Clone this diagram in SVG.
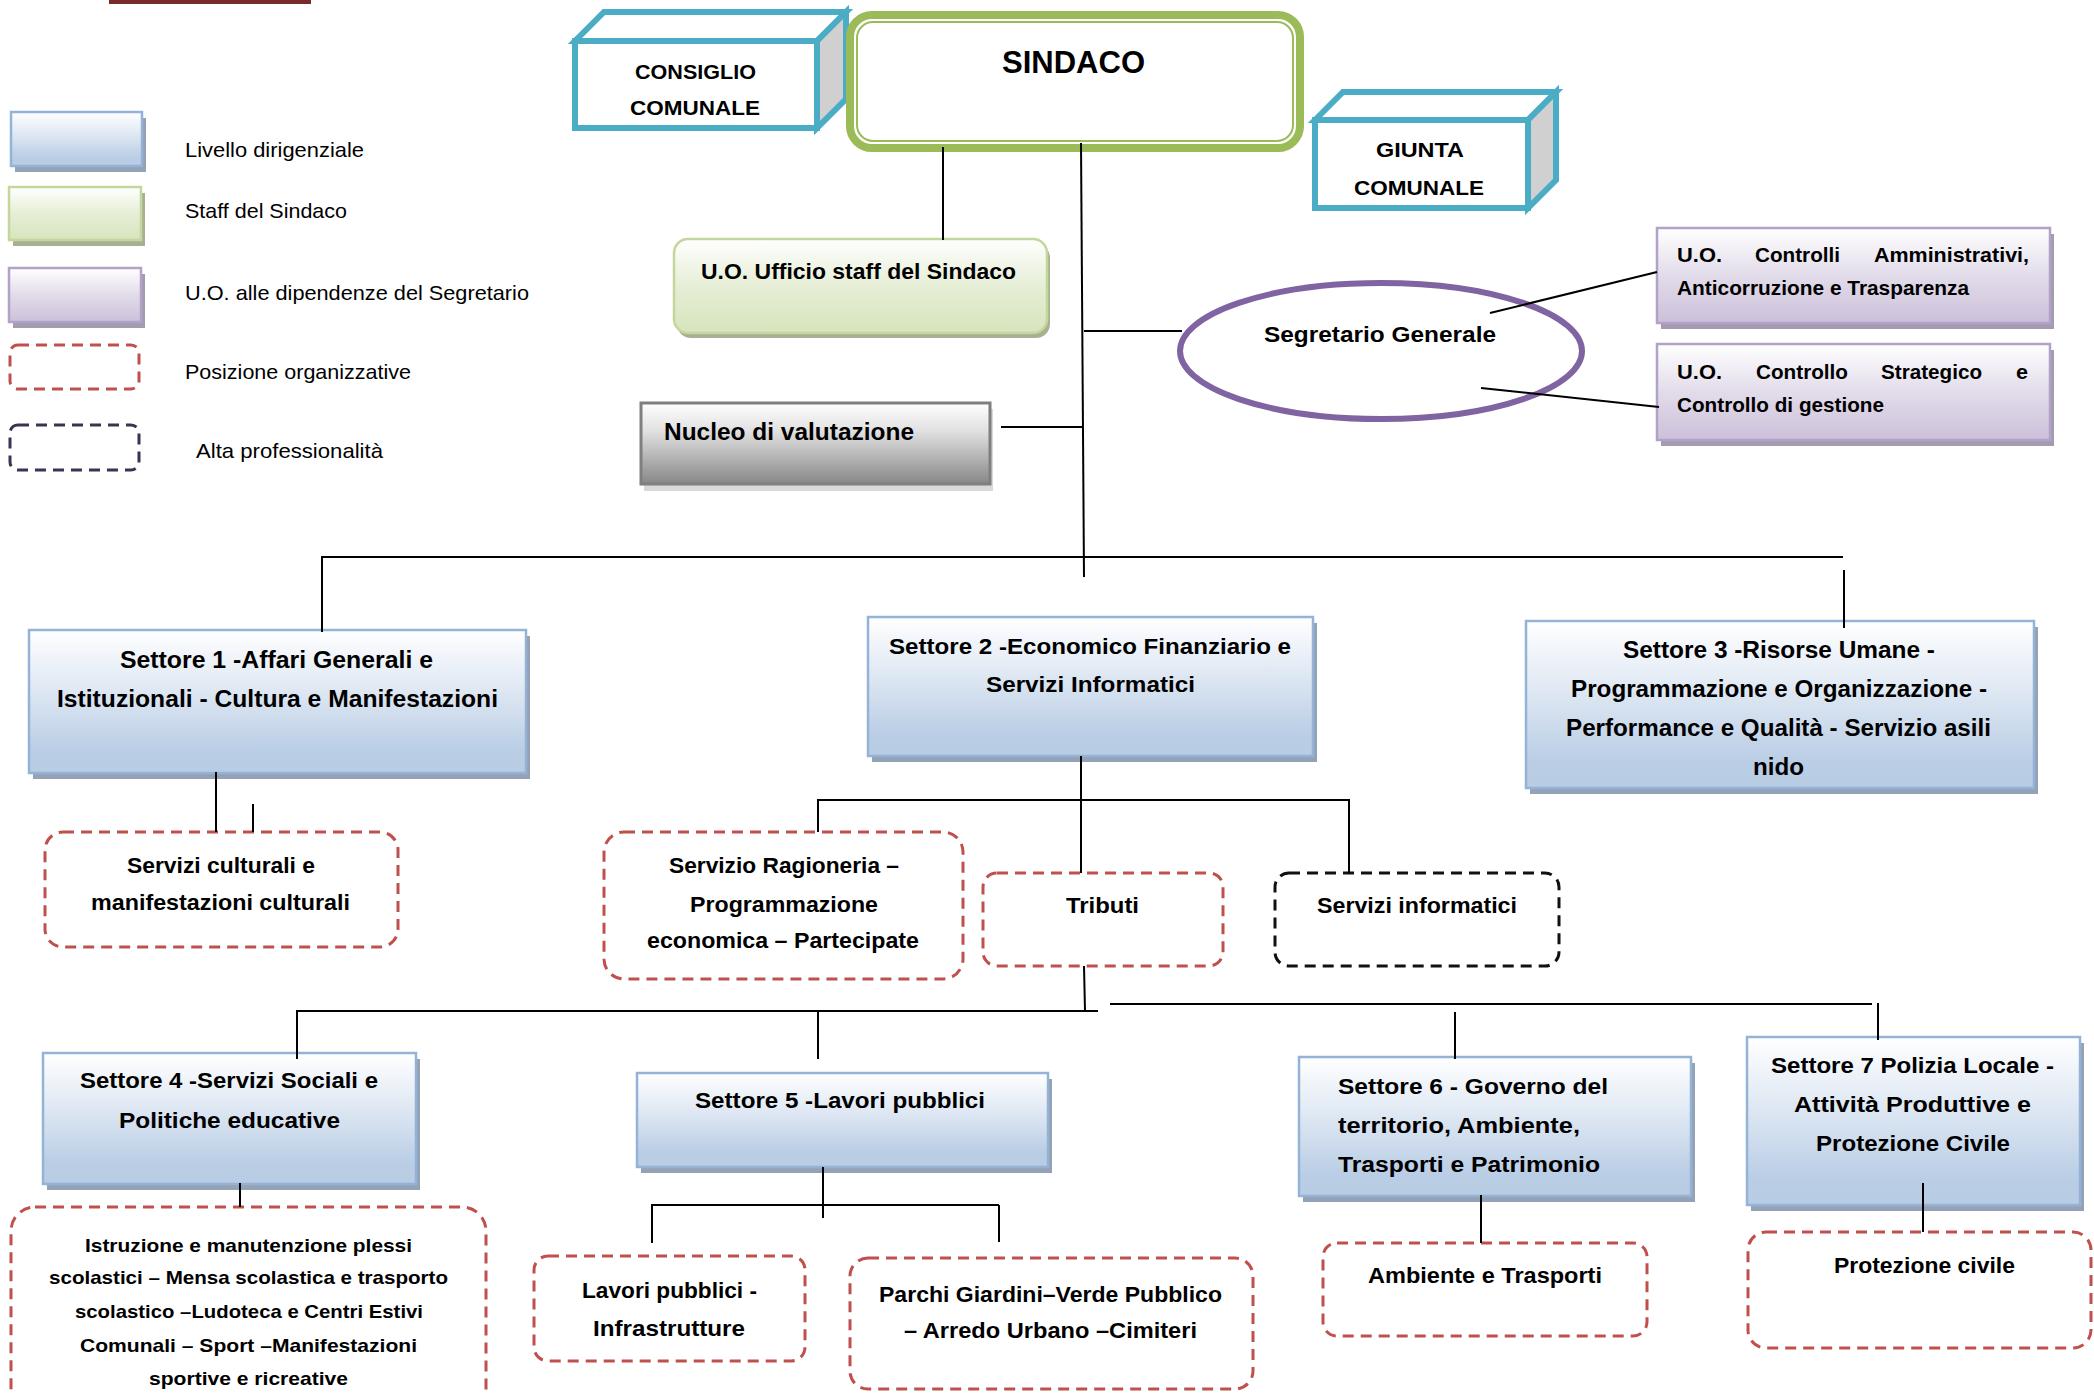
<svg xmlns="http://www.w3.org/2000/svg" width="2094" height="1395" viewBox="0 0 2094 1395">
<style>
.b{font-family:"Liberation Sans",Arial,sans-serif;font-weight:bold;fill:#000}
.r{font-family:"Liberation Sans",Arial,sans-serif;fill:#000}
.f19{font-size:19px}.f21{font-size:21px}.f22{font-size:22px}.f23{font-size:23px}.f24{font-size:24px}.f31{font-size:31px}
.blue{fill:url(#gBlue);stroke:#95B3D7;stroke-width:2.5}
.bsh{fill:#94A2B6}
.green{fill:url(#gGreen);stroke:#C3D69B;stroke-width:2.5}
.gsh{fill:#A8B094}
.purple{fill:url(#gPurple);stroke:#B3A2C7;stroke-width:2.5}
.psh{fill:#A39BAF}
.po{fill:#fff;stroke:#C0504D;stroke-width:3;stroke-dasharray:11 7}
.ap{fill:#fff;stroke:#111;stroke-width:3;stroke-dasharray:11 7}
.box3d{stroke:#4BACC6;stroke-width:6;stroke-linejoin:miter}
#connectors line{stroke:#000;stroke-width:2}
</style>
<defs>
<linearGradient id="gBlue" x1="0" y1="0" x2="0" y2="1"><stop offset="0" stop-color="#FFFFFF"/><stop offset="0.45" stop-color="#DCE6F2"/><stop offset="0.85" stop-color="#B9CDE5"/><stop offset="1" stop-color="#B8CCE4"/></linearGradient>
<linearGradient id="gGreen" x1="0" y1="0" x2="0" y2="1"><stop offset="0" stop-color="#FFFFFF"/><stop offset="0.5" stop-color="#E6EED6"/><stop offset="1" stop-color="#D7E4BD"/></linearGradient>
<linearGradient id="gPurple" x1="0" y1="0" x2="0" y2="1"><stop offset="0" stop-color="#FFFFFF"/><stop offset="0.5" stop-color="#E2DCEA"/><stop offset="1" stop-color="#CCC0DA"/></linearGradient>
<linearGradient id="gGray" x1="0" y1="0" x2="0" y2="1"><stop offset="0" stop-color="#FFFFFF"/><stop offset="0.35" stop-color="#E0E0E0"/><stop offset="1" stop-color="#878787"/></linearGradient>
</defs>
<rect width="2094" height="1395" fill="#fff"/>
<rect x="109" y="0" width="202" height="4" fill="#7A2A2A"/>

<g id="legend">
<rect x="15" y="118" width="131" height="54" class="bsh"/>
<rect x="11" y="112" width="131" height="54" class="blue"/>
<rect x="13" y="193" width="132" height="53" class="gsh"/>
<rect x="9" y="187" width="132" height="53" class="green"/>
<rect x="13" y="274" width="132" height="54" class="psh"/>
<rect x="9" y="268" width="132" height="54" class="purple"/>
<rect x="10" y="345" width="129" height="44" rx="8" class="po"/>
<rect x="10" y="425" width="129" height="45" rx="8" class="ap" style="stroke:#3F3151"/>
<text class="r f21" x="185" y="157" textLength="179" lengthAdjust="spacingAndGlyphs">Livello dirigenziale</text>
<text class="r f21" x="185" y="218" textLength="162" lengthAdjust="spacingAndGlyphs">Staff del Sindaco</text>
<text class="r f21" x="185" y="300" textLength="344" lengthAdjust="spacingAndGlyphs">U.O. alle dipendenze del Segretario</text>
<text class="r f21" x="185" y="379" textLength="226" lengthAdjust="spacingAndGlyphs">Posizione organizzative</text>
<text class="r f21" x="196" y="458" textLength="187" lengthAdjust="spacingAndGlyphs">Alta professionalità</text>
</g>

<g id="consiglio">
<polygon points="575,41 604,12 846,12 817,41" fill="#fff" class="box3d"/>
<polygon points="817,41 846,12 846,99 817,128" fill="#D0D0D0" class="box3d"/>
<rect x="575" y="41" width="242" height="87" fill="#fff" class="box3d"/>
<text class="b f21" x="635" y="79" textLength="121" lengthAdjust="spacingAndGlyphs">CONSIGLIO</text>
<text class="b f21" x="630" y="115" textLength="130" lengthAdjust="spacingAndGlyphs">COMUNALE</text>
</g>

<g id="sindaco">
<rect x="850" y="15" width="450" height="133" rx="22" fill="#fff" stroke="#9BBB59" stroke-width="8"/>
<rect x="857" y="22" width="436" height="119" rx="16" fill="none" stroke="#9BBB59" stroke-width="2"/>
<text class="b f31" x="1002" y="73" textLength="143" lengthAdjust="spacingAndGlyphs">SINDACO</text>
</g>

<g id="giunta">
<polygon points="1315,120 1343,92 1556,92 1528,120" fill="#fff" class="box3d"/>
<polygon points="1528,120 1556,92 1556,180 1528,208" fill="#D0D0D0" class="box3d"/>
<rect x="1315" y="120" width="213" height="88" fill="#fff" class="box3d"/>
<text class="b f21" x="1376" y="157" textLength="88" lengthAdjust="spacingAndGlyphs">GIUNTA</text>
<text class="b f21" x="1354" y="195" textLength="130" lengthAdjust="spacingAndGlyphs">COMUNALE</text>
</g>

<g id="staff">
<rect x="677" y="244" width="373" height="94" rx="14" class="gsh"/>
<rect x="674" y="239" width="373" height="94" rx="14" class="green"/>
<text class="b f22" x="701" y="279" textLength="315" lengthAdjust="spacingAndGlyphs">U.O. Ufficio staff del Sindaco</text>
</g>

<g id="nucleo">
<rect x="644" y="409" width="349" height="82" fill="#D9D9D9"/>
<rect x="641" y="403" width="349" height="81" fill="url(#gGray)" stroke="#7F7F7F" stroke-width="3"/>
<text class="b f24" x="664" y="440" textLength="250" lengthAdjust="spacingAndGlyphs">Nucleo di valutazione</text>
</g>

<g id="segretario">
<ellipse cx="1381" cy="351" rx="201" ry="68" fill="#fff" stroke="#8064A2" stroke-width="6"/>
<text class="b f22" x="1264" y="342" textLength="232" lengthAdjust="spacingAndGlyphs">Segretario Generale</text>
</g>

<g id="uo-controlli">
<rect x="1661" y="234" width="393" height="95" class="psh"/>
<rect x="1657" y="228" width="393" height="95" class="purple"/>
<text class="b f21" x="1677" y="262" textLength="45" lengthAdjust="spacingAndGlyphs">U.O.</text>
<text class="b f21" x="1755" y="262" textLength="85" lengthAdjust="spacingAndGlyphs">Controlli</text>
<text class="b f21" x="1874" y="262" textLength="155" lengthAdjust="spacingAndGlyphs">Amministrativi,</text>
<text class="b f21" x="1677" y="295" textLength="292" lengthAdjust="spacingAndGlyphs">Anticorruzione e Trasparenza</text>
</g>

<g id="uo-strategico">
<rect x="1661" y="350" width="393" height="96" class="psh"/>
<rect x="1657" y="344" width="393" height="96" class="purple"/>
<text class="b f21" x="1677" y="379" textLength="45" lengthAdjust="spacingAndGlyphs">U.O.</text>
<text class="b f21" x="1756" y="379" textLength="92" lengthAdjust="spacingAndGlyphs">Controllo</text>
<text class="b f21" x="1881" y="379" textLength="101" lengthAdjust="spacingAndGlyphs">Strategico</text>
<text class="b f21" x="2016" y="379" textLength="12" lengthAdjust="spacingAndGlyphs">e</text>
<text class="b f21" x="1677" y="412" textLength="207" lengthAdjust="spacingAndGlyphs">Controllo di gestione</text>
</g>

<g id="settore1">
<rect x="33" y="636" width="497" height="143" class="bsh"/>
<rect x="29" y="630" width="497" height="143" class="blue"/>
<text class="b f23" x="120" y="668" textLength="313" lengthAdjust="spacingAndGlyphs">Settore 1 -Affari Generali e</text>
<text class="b f23" x="57" y="707" textLength="441" lengthAdjust="spacingAndGlyphs">Istituzionali - Cultura e Manifestazioni</text>
</g>

<g id="servizi-culturali">
<rect x="45" y="832" width="353" height="115" rx="18" class="po"/>
<text class="b f22" x="127" y="873" textLength="188" lengthAdjust="spacingAndGlyphs">Servizi culturali e</text>
<text class="b f22" x="91" y="910" textLength="259" lengthAdjust="spacingAndGlyphs">manifestazioni culturali</text>
</g>

<g id="settore2">
<rect x="872" y="623" width="445" height="139" class="bsh"/>
<rect x="868" y="617" width="445" height="139" class="blue"/>
<text class="b f22" x="889" y="654" textLength="402" lengthAdjust="spacingAndGlyphs">Settore 2 -Economico Finanziario e</text>
<text class="b f22" x="986" y="692" textLength="209" lengthAdjust="spacingAndGlyphs">Servizi Informatici</text>
</g>

<g id="ragioneria">
<rect x="604" y="832" width="359" height="147" rx="20" class="po"/>
<text class="b f22" x="669" y="873" textLength="230" lengthAdjust="spacingAndGlyphs">Servizio Ragioneria –</text>
<text class="b f22" x="690" y="912" textLength="188" lengthAdjust="spacingAndGlyphs">Programmazione</text>
<text class="b f22" x="647" y="948" textLength="272" lengthAdjust="spacingAndGlyphs">economica – Partecipate</text>
</g>

<g id="tributi">
<rect x="983" y="873" width="240" height="93" rx="14" class="po"/>
<text class="b f22" x="1066" y="913" textLength="73" lengthAdjust="spacingAndGlyphs">Tributi</text>
</g>

<g id="servizi-informatici">
<rect x="1275" y="873" width="284" height="93" rx="14" class="ap"/>
<text class="b f22" x="1317" y="913" textLength="200" lengthAdjust="spacingAndGlyphs">Servizi informatici</text>
</g>

<g id="settore3">
<rect x="1530" y="627" width="508" height="167" class="bsh"/>
<rect x="1526" y="621" width="508" height="167" class="blue"/>
<text class="b f23" x="1623" y="658" textLength="312" lengthAdjust="spacingAndGlyphs">Settore 3 -Risorse Umane -</text>
<text class="b f23" x="1571" y="697" textLength="416" lengthAdjust="spacingAndGlyphs">Programmazione e Organizzazione -</text>
<text class="b f23" x="1566" y="736" textLength="425" lengthAdjust="spacingAndGlyphs">Performance e Qualità - Servizio asili</text>
<text class="b f23" x="1753" y="775" textLength="51" lengthAdjust="spacingAndGlyphs">nido</text>
</g>

<g id="settore4">
<rect x="47" y="1059" width="373" height="131" class="bsh"/>
<rect x="43" y="1053" width="373" height="131" class="blue"/>
<text class="b f22" x="80" y="1088" textLength="298" lengthAdjust="spacingAndGlyphs">Settore 4 -Servizi Sociali e</text>
<text class="b f22" x="119" y="1128" textLength="221" lengthAdjust="spacingAndGlyphs">Politiche educative</text>
</g>

<g id="istruzione">
<rect x="11" y="1207" width="475" height="220" rx="24" class="po"/>
<text class="b f19" x="85" y="1252" textLength="327" lengthAdjust="spacingAndGlyphs">Istruzione e manutenzione plessi</text>
<text class="b f19" x="49" y="1284" textLength="399" lengthAdjust="spacingAndGlyphs">scolastici – Mensa scolastica e trasporto</text>
<text class="b f19" x="75" y="1318" textLength="348" lengthAdjust="spacingAndGlyphs">scolastico –Ludoteca e Centri Estivi</text>
<text class="b f19" x="80" y="1352" textLength="337" lengthAdjust="spacingAndGlyphs">Comunali – Sport –Manifestazioni</text>
<text class="b f19" x="149" y="1385" textLength="199" lengthAdjust="spacingAndGlyphs">sportive e ricreative</text>
</g>

<g id="settore5">
<rect x="641" y="1079" width="411" height="94" class="bsh"/>
<rect x="637" y="1073" width="411" height="94" class="blue"/>
<text class="b f22" x="695" y="1108" textLength="290" lengthAdjust="spacingAndGlyphs">Settore 5 -Lavori pubblici</text>
</g>

<g id="lavori-pubblici">
<rect x="534" y="1256" width="271" height="105" rx="14" class="po"/>
<text class="b f22" x="582" y="1298" textLength="175" lengthAdjust="spacingAndGlyphs">Lavori pubblici -</text>
<text class="b f22" x="593" y="1336" textLength="152" lengthAdjust="spacingAndGlyphs">Infrastrutture</text>
</g>

<g id="parchi">
<rect x="850" y="1258" width="403" height="131" rx="18" class="po"/>
<text class="b f22" x="879" y="1302" textLength="343" lengthAdjust="spacingAndGlyphs">Parchi Giardini–Verde Pubblico</text>
<text class="b f22" x="904" y="1338" textLength="293" lengthAdjust="spacingAndGlyphs">– Arredo Urbano –Cimiteri</text>
</g>

<g id="settore6">
<rect x="1303" y="1063" width="392" height="139" class="bsh"/>
<rect x="1299" y="1057" width="392" height="139" class="blue"/>
<text class="b f22" x="1338" y="1094" textLength="270" lengthAdjust="spacingAndGlyphs">Settore 6 - Governo del</text>
<text class="b f22" x="1338" y="1133" textLength="242" lengthAdjust="spacingAndGlyphs">territorio, Ambiente,</text>
<text class="b f22" x="1338" y="1172" textLength="262" lengthAdjust="spacingAndGlyphs">Trasporti e Patrimonio</text>
</g>

<g id="ambiente">
<rect x="1323" y="1243" width="324" height="93" rx="14" class="po"/>
<text class="b f22" x="1368" y="1283" textLength="234" lengthAdjust="spacingAndGlyphs">Ambiente e Trasporti</text>
</g>

<g id="settore7">
<rect x="1751" y="1043" width="333" height="168" class="bsh"/>
<rect x="1747" y="1037" width="333" height="168" class="blue"/>
<text class="b f22" x="1771" y="1073" textLength="283" lengthAdjust="spacingAndGlyphs">Settore 7 Polizia Locale -</text>
<text class="b f22" x="1794" y="1112" textLength="237" lengthAdjust="spacingAndGlyphs">Attività Produttive e</text>
<text class="b f22" x="1816" y="1151" textLength="194" lengthAdjust="spacingAndGlyphs">Protezione Civile</text>
</g>

<g id="protezione-civile">
<rect x="1748" y="1232" width="343" height="116" rx="18" class="po"/>
<text class="b f22" x="1834" y="1273" textLength="181" lengthAdjust="spacingAndGlyphs">Protezione civile</text>
</g>

<g id="connectors">
<line x1="943" y1="147" x2="943" y2="240"/>
<line x1="1081" y1="143" x2="1084" y2="577"/>
<line x1="1084" y1="331" x2="1182" y2="331"/>
<line x1="1001" y1="427" x2="1082" y2="427"/>
<line x1="1490" y1="313" x2="1657" y2="272"/>
<line x1="1481" y1="388" x2="1659" y2="407"/>
<line x1="321" y1="557" x2="1843" y2="557"/>
<line x1="322" y1="557" x2="322" y2="632"/>
<line x1="1844" y1="570" x2="1844" y2="628"/>
<line x1="216" y1="772" x2="216" y2="832"/>
<line x1="253" y1="804" x2="253" y2="832"/>
<line x1="1081" y1="756" x2="1081" y2="873"/>
<line x1="817" y1="800" x2="1350" y2="800"/>
<line x1="818" y1="800" x2="818" y2="832"/>
<line x1="1349" y1="800" x2="1349" y2="873"/>
<line x1="1084" y1="966" x2="1085" y2="1011"/>
<line x1="296" y1="1011" x2="1098" y2="1011"/>
<line x1="297" y1="1011" x2="297" y2="1059"/>
<line x1="818" y1="1011" x2="818" y2="1059"/>
<line x1="1110" y1="1004" x2="1872" y2="1004"/>
<line x1="1455" y1="1012" x2="1455" y2="1059"/>
<line x1="1878" y1="1003" x2="1878" y2="1040"/>
<line x1="240" y1="1183" x2="240" y2="1207"/>
<line x1="823" y1="1167" x2="823" y2="1218"/>
<line x1="651" y1="1205" x2="999" y2="1205"/>
<line x1="652" y1="1205" x2="652" y2="1243"/>
<line x1="999" y1="1205" x2="999" y2="1242"/>
<line x1="1481" y1="1195" x2="1481" y2="1243"/>
<line x1="1923" y1="1183" x2="1923" y2="1232"/>
</g>
</svg>
